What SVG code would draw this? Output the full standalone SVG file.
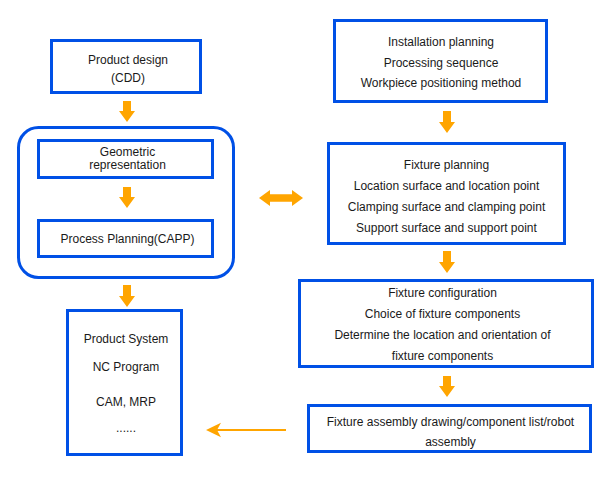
<svg xmlns="http://www.w3.org/2000/svg" width="614" height="479" viewBox="0 0 614 479">
<style>
.box{fill:#fff;stroke:#0050e6;stroke-width:3}
.cont{fill:none;stroke:#0050e6;stroke-width:3}
.arr{fill:#ffa500}
text{font-family:"Liberation Sans",Arial,sans-serif;font-size:12px;fill:#1a1a1a;text-anchor:middle}
</style>
<rect width="614" height="479" fill="#fff"/>
<g id="container">
<rect class="cont" x="18.5" y="127.5" width="215" height="150" rx="20"/>
</g>
<g id="product-design">
<rect class="box" x="51.5" y="40.5" width="149" height="52"/>
<text x="128" y="64">Product design</text>
<text x="128" y="82">(CDD)</text>
</g>
<g id="geometric">
<rect class="box" x="38.5" y="140.5" width="174" height="37"/>
<text x="127.5" y="156">Geometric</text>
<text x="127.5" y="169">representation</text>
</g>
<g id="process-planning">
<rect class="box" x="38.5" y="220.5" width="174" height="36"/>
<text x="127.5" y="243">Process Planning(CAPP)</text>
</g>
<g id="product-system">
<rect class="box" x="67.5" y="310.5" width="114" height="144"/>
<text x="126" y="343">Product System</text>
<text x="126" y="371">NC Program</text>
<text x="126" y="406">CAM, MRP</text>
<text x="126" y="432">......</text>
</g>
<g id="installation">
<rect class="box" x="334.5" y="20.5" width="212" height="81"/>
<text x="441" y="46">Installation planning</text>
<text x="441" y="67">Processing sequence</text>
<text x="441" y="87">Workpiece positioning method</text>
</g>
<g id="fixture-planning">
<rect class="box" x="328.5" y="143.5" width="236" height="100"/>
<text x="446.5" y="169">Fixture planning</text>
<text x="446.5" y="190">Location surface and location point</text>
<text x="446.5" y="211">Clamping surface and clamping point</text>
<text x="446.5" y="232">Support surface and support point</text>
</g>
<g id="fixture-configuration">
<rect class="box" x="299.5" y="280.5" width="293" height="86"/>
<text x="442.5" y="297">Fixture configuration</text>
<text x="442.5" y="318">Choice of fixture components</text>
<text x="442.5" y="339">Determine the location and orientation of</text>
<text x="442.5" y="360">fixture components</text>
</g>
<g id="fixture-assembly">
<rect class="box" x="308.5" y="405.5" width="282" height="46"/>
<text x="450.5" y="426">Fixture assembly drawing/component list/robot</text>
<text x="450.5" y="446">assembly</text>
</g>
<g id="connectors">
<polygon class="arr" points="123,101 131,101 131,111 135,111 127,122 119,111 123,111"/>
<polygon class="arr" points="123,187 131,187 131,197 135,197 127,208 119,197 123,197"/>
<polygon class="arr" points="123,285 131,285 131,296 135,296 127,307 119,296 123,296"/>
<polygon class="arr" points="443,111 451,111 451,122 455,122 447,133 439,122 443,122"/>
<polygon class="arr" points="443,251 451,251 451,262 455,262 447,273 439,262 443,262"/>
<polygon class="arr" points="443,376 451,376 451,386 455,386 447,397 439,386 443,386"/>
<polygon class="arr" points="259,198 270,190 270,194.3 292,194.3 292,190 303,198 292,206 292,201.7 270,201.7 270,206"/>
<line x1="286" y1="430" x2="216" y2="430" stroke="#ffa500" stroke-width="2"/>
<polygon class="arr" points="206,430 221,422.7 217,430 221,437.3"/>
</g>
</svg>
